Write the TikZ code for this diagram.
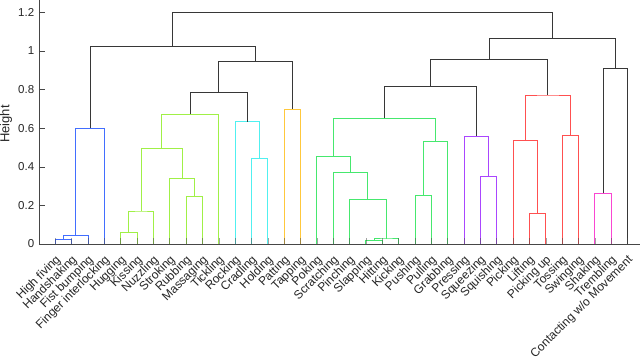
\documentclass[tikz,border=0pt]{standalone}
\usepackage{fontspec}
\setmainfont{Liberation Sans}
\definecolor{axisgray}{RGB}{70,70,70}
\definecolor{labelgray}{RGB}{38,38,38}
\definecolor{cblack}{RGB}{55,55,55}
\definecolor{cblue}{RGB}{66,110,255}
\definecolor{clime}{RGB}{160,240,70}
\definecolor{ccyan}{RGB}{80,240,240}
\definecolor{corange}{RGB}{255,200,60}
\definecolor{cgreen}{RGB}{70,232,110}
\definecolor{cpurple}{RGB}{170,70,255}
\definecolor{cred}{RGB}{255,80,80}
\definecolor{cmagenta}{RGB}{250,70,210}
\begin{document}
\begin{tikzpicture}[x=1pt,y=-1pt,
  font=\fontsize{11}{13}\selectfont,
  link/.style={line width=1pt},
  axisline/.style={draw=axisgray, line width=0.6pt},
  tickline/.style={draw=axisgray, line width=0.6pt},
  leaflabel/.style={rotate=45, anchor=east, inner sep=0pt, text=labelgray, font=\fontsize{12}{14}\selectfont},
  ticklabel/.style={anchor=east, inner sep=0pt, text=labelgray, font=\fontsize{11.5}{13}\selectfont},
  axistitle/.style={rotate=90, inner sep=0pt, text=labelgray, font=\fontsize{13}{15}\selectfont}]
\useasboundingbox (0,0) rectangle (640,360);
\fill[white] (0,0) rectangle (640,360);
\node[axistitle] (ytitle) at (6,124) {Height};
\begin{scope}[shift={(38.95pt,-244pt)}, x=16.35pt, y=193pt]
  % leaves
  \foreach \i in {1,...,36} \coordinate (L\i) at (\i,0);
  % axes
  \coordinate (O) at (0,0);
  \coordinate (XR) at (36.8,0);
  \coordinate (YT) at (0,1.265);
  \draw[axisline] (XR) -- (O) -- (YT);
  \foreach \k/\h/\t in {0/0/0,1/0.2/0.2,2/0.4/0.4,3/0.6/0.6,4/0.8/0.8,5/1/1,6/1.2/1.2} {
    \coordinate (T\k) at (0,\h);
    \draw[tickline] (T\k) -- ++(6pt,0);
    \node[ticklabel] (TL\k) at ([xshift=-4.6pt]T\k) {\t};
  }
  % merge points
  \coordinate (b1) at (1.5,0.023);
  \coordinate (b2) at (2.25,0.045);
  \coordinate (b3) at (3.125,0.600);
  \coordinate (g1) at (5.5,0.060);
  \coordinate (g2) at (6.25,0.171);
  \coordinate (g3) at (9.5,0.245);
  \coordinate (g4) at (8.75,0.340);
  \coordinate (g5) at (7.5,0.494);
  \coordinate (g6) at (9.25,0.672);
  \coordinate (c1) at (13.5,0.442);
  \coordinate (c2) at (12.75,0.634);
  \coordinate (k1) at (11,0.786);
  \coordinate (o1) at (15.5,0.698);
  \coordinate (k2) at (13.25,0.945);
  \coordinate (k3) at (8.1875,1.021);
  \coordinate (e1) at (20.5,0.019);
  \coordinate (e2) at (21.25,0.026);
  \coordinate (e3) at (20.125,0.230);
  \coordinate (e4) at (19.0625,0.370);
  \coordinate (e5) at (18.03125,0.452);
  \coordinate (e6) at (23.5,0.252);
  \coordinate (e7) at (24.25,0.530);
  \coordinate (e8) at (21.140625,0.651);
  \coordinate (p1) at (27.5,0.351);
  \coordinate (p2) at (26.75,0.558);
  \coordinate (k4) at (23.9453,0.817);
  \coordinate (r1) at (30.5,0.157);
  \coordinate (r2) at (29.75,0.537);
  \coordinate (r3) at (32.5,0.561);
  \coordinate (r4) at (31.125,0.772);
  \coordinate (k5) at (27.5352,0.955);
  \coordinate (q1) at (34.5,0.263);
  \coordinate (k6) at (35.25,0.910);
  \coordinate (k7) at (31.3926,1.064);
  \coordinate (k8) at (19.7900,1.200);
  % blue
  \draw[link,cblue] (L1) |- (b1) -| (L2);
  \draw[link,cblue] (b1) |- (b2) -| (L3);
  \draw[link,cblue] (b2) |- (b3) -| (L4);
  % lime
  \draw[link,clime] (L5) |- (g1) -| (L6);
  \draw[link,clime] (g1) |- (g2) -| (L7);
  \draw[link,clime] (L9) |- (g3) -| (L10);
  \draw[link,clime] (L8) |- (g4) -| (g3);
  \draw[link,clime] (g2) |- (g5) -| (g4);
  \draw[link,clime] (g5) |- (g6) -| (L11);
  % cyan
  \draw[link,ccyan] (L13) |- (c1) -| (L14);
  \draw[link,ccyan] (L12) |- (c2) -| (c1);
  % orange
  \draw[link,corange] (L15) |- (o1) -| (L16);
  % green
  \draw[link,cgreen] (L20) |- (e1) -| (L21);
  \draw[link,cgreen] (e1) |- (e2) -| (L22);
  \draw[link,cgreen] (L19) |- (e3) -| (e2);
  \draw[link,cgreen] (L18) |- (e4) -| (e3);
  \draw[link,cgreen] (L17) |- (e5) -| (e4);
  \draw[link,cgreen] (L23) |- (e6) -| (L24);
  \draw[link,cgreen] (e6) |- (e7) -| (L25);
  \draw[link,cgreen] (e5) |- (e8) -| (e7);
  % purple
  \draw[link,cpurple] (L27) |- (p1) -| (L28);
  \draw[link,cpurple] (L26) |- (p2) -| (p1);
  % red
  \draw[link,cred] (L30) |- (r1) -| (L31);
  \draw[link,cred] (L29) |- (r2) -| (r1);
  \draw[link,cred] (L32) |- (r3) -| (L33);
  \draw[link,cred] (r2) |- (r4) -| (r3);
  % magenta
  \draw[link,cmagenta] (L34) |- (q1) -| (L35);
  % black
  \draw[link,cblack] (g6) |- (k1) -| (c2);
  \draw[link,cblack] (k1) |- (k2) -| (o1);
  \draw[link,cblack] (b3) |- (k3) -| (k2);
  \draw[link,cblack] (e8) |- (k4) -| (p2);
  \draw[link,cblack] (k4) |- (k5) -| (r4);
  \draw[link,cblack] (q1) |- (k6) -| (L36);
  \draw[link,cblack] (k5) |- (k7) -| (k6);
  \draw[link,cblack] (k3) |- (k8) -| (k7);
  % x ticks
  \foreach \i in {1,...,36} \draw[tickline, opacity=0.5] (L\i) -- ++(0,6pt);
  % leaf labels
  \foreach \i/\t in {1/{High fiving},2/{Handshaking},3/{Fist bumping},4/{Finger interlocking},
    5/{Hugging},6/{Kissing},7/{Nuzzling},8/{Stroking},9/{Rubbing},10/{Massaging},11/{Tickling},
    12/{Rocking},13/{Cradling},14/{Holding},15/{Patting},16/{Tapping},17/{Poking},18/{Scratching},
    19/{Pinching},20/{Slapping},21/{Hitting},22/{Kicking},23/{Pushing},24/{Pulling},25/{Grabbing},
    26/{Pressing},27/{Squeezing},28/{Squishing},29/{Picking},30/{Lifting},31/{Picking up},
    32/{Tossing},33/{Swinging},34/{Shaking},35/{Trembling},36/{Contacting w/o Movement}}
    \node[leaflabel] (N\i) at ([xshift=3.5pt,yshift=-14pt]L\i) {\t};
\end{scope}
\end{tikzpicture}
\end{document}
